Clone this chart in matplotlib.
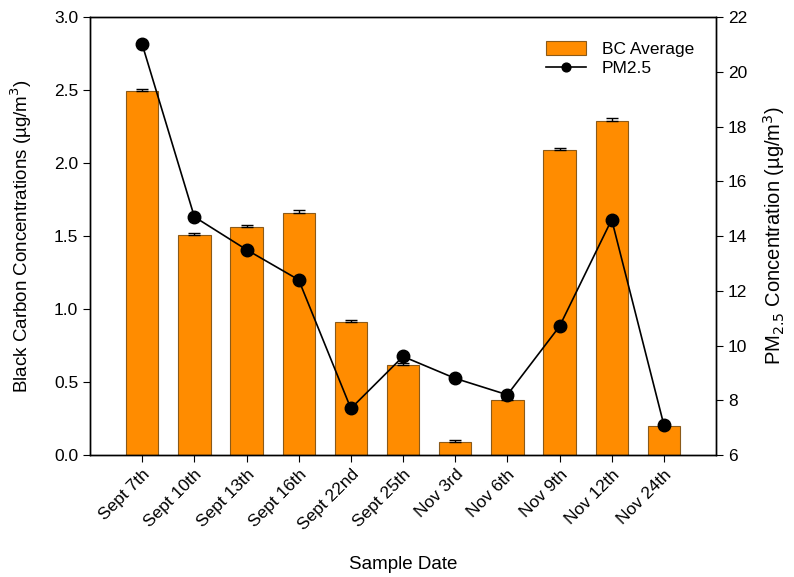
import numpy as np
import matplotlib.pyplot as plt

plt.rcParams['font.family'] = ['Liberation Sans', 'DejaVu Sans']

# Sampling dates
dates = ['Sept 7th', 'Sept 10th', 'Sept 13th', 'Sept 16th', 'Sept 22nd', 'Sept 25th',
         'Nov 3rd', 'Nov 6th', 'Nov 9th', 'Nov 12th', 'Nov 24th']

# Black carbon averages (ug/m3) and their error
bc_avg = [2.49, 1.51, 1.56, 1.66, 0.91, 0.62, 0.09, 0.38, 2.09, 2.29, 0.20]
bc_err = [0.015, 0.012, 0.015, 0.015, 0.015, 0.010, 0.015, 0.010, 0.015, 0.020, 0.010]

# PM2.5 concentrations (ug/m3)
pm25 = [21.0, 14.7, 13.5, 12.4, 7.7, 9.6, 8.8, 8.2, 10.7, 14.6, 7.1]

x = np.arange(len(dates))

fig = plt.figure(figsize=(7.94, 5.77), dpi=100)
ax = fig.add_axes([0.1134, 0.2114, 0.7884, 0.7591])

bars = ax.bar(x, bc_avg, width=0.62, color='#FF8C00', edgecolor='#8a5a1a',
              linewidth=0.8, label='BC Average', zorder=2)
ax.errorbar(x, bc_avg, yerr=[np.zeros(len(bc_err)), bc_err], fmt='none',
            ecolor='black', elinewidth=1, capsize=4, capthick=1, zorder=3)

ax.set_xlim(-1, 11)
ax.set_ylim(0, 3.0)
ax.set_yticks(np.arange(0, 3.01, 0.5))
ax.set_yticklabels([f'{v:.1f}' for v in np.arange(0, 3.01, 0.5)])
ax.set_xticks(x)
ax.set_xticklabels(dates, rotation=45, ha='right', rotation_mode='anchor')
ax.tick_params(axis='both', direction='out', length=5, labelsize=12.5)
ax.set_ylabel('Black Carbon Concentrations (µg/m$^3$)', fontsize=13.5, labelpad=14)
ax.set_xlabel('Sample Date', fontsize=13.5, labelpad=16)

ax2 = ax.twinx()
line, = ax2.plot(x, pm25, color='black', marker='o', markersize=9,
                 linewidth=1.2, label='PM2.5', zorder=4)
ax2.set_ylim(6, 22)
ax2.set_yticks(np.arange(6, 23, 2))
ax2.tick_params(axis='y', direction='out', length=5, labelsize=12.5)
ax2.set_ylabel('PM$_{2.5}$ Concentration (µg/m$^3$)', fontsize=14.5, labelpad=10)

for a in (ax, ax2):
    for s in a.spines.values():
        s.set_linewidth(1.0)

ax2.legend([bars, line], ['BC Average', 'PM2.5'], loc='upper right',
           bbox_to_anchor=(0.99, 0.98), frameon=False, fontsize=12.5,
           handlelength=2.3, handleheight=0.8, handletextpad=0.9,
           labelspacing=0.2, markerscale=0.7)

fig.savefig('out.png', dpi=100)
